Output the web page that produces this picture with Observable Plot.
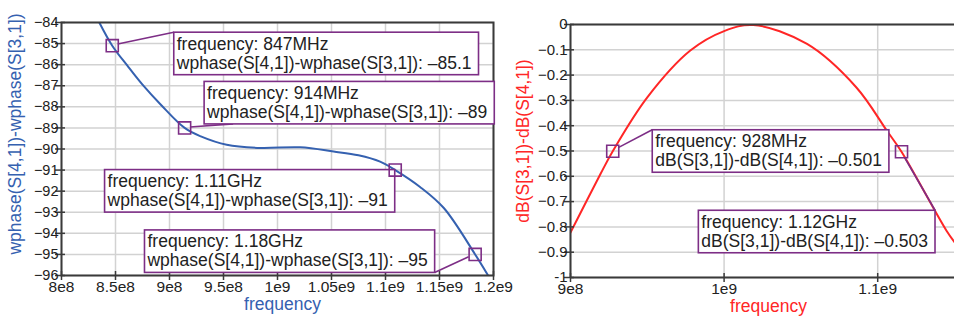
<!DOCTYPE html>
<html><head><meta charset="utf-8">
<script src="https://cdn.jsdelivr.net/npm/d3@7"></script>
<script src="https://cdn.jsdelivr.net/npm/@observablehq/plot@0.6"></script>
<style>
body{margin:0;background:#fff;}
#wrap{display:flex;width:954px;height:321px;overflow:hidden;}
#wrap svg{display:block;overflow:visible;}
</style></head><body><div id="wrap"><div id="left"></div><div id="right"></div></div>
<script>
// ---------- data ----------
const phaseFreq = [8.35e8, 8.47e8, 8.61e8, 8.75e8, 8.92e8, 9.14e8, 9.29e8, 9.53e8, 9.84e8, 1.021e9, 1.052e9, 1.075e9, 1.095e9, 1.109e9, 1.132e9, 1.154e9, 1.183e9, 1.195e9];
const phaseDiff = [-84.0, -85.1, -86.05, -86.95, -87.9, -89.0, -89.4, -89.8, -89.95, -89.92, -90.12, -90.3, -90.6, -91.0, -91.8, -92.8, -95.0, -96.0];

const dbFreq = [9.0e8, 9.195e8, 9.275e8, 9.5e8, 9.78e8, 1.0e9, 1.019e9, 1.054e9, 1.086e9, 1.106e9, 1.1155e9, 1.1448e9, 1.15e9];
const dbDiff = [-0.822, -0.591, -0.501, -0.288, -0.103, -0.026, -0.002, -0.077, -0.248, -0.42, -0.503, -0.815, -0.86];

const leftXTicks = [8e8, 8.5e8, 9e8, 9.5e8, 1e9, 1.05e9, 1.1e9, 1.15e9, 1.2e9];
const leftXTickLabels = ["8e8", "8.5e8", "9e8", "9.5e8", "1e9", "1.05e9", "1.1e9", "1.15e9", "1.2e9"];
const leftYTicks = [-84, -85, -86, -87, -88, -89, -90, -91, -92, -93, -94, -95, -96];

const rightXTicks = [9e8, 1e9, 1.1e9];
const rightXTickLabels = ["9e8", "1e9", "1.1e9"];
const rightYTicks = [0, -0.1, -0.2, -0.3, -0.4, -0.5, -0.6, -0.7, -0.8, -0.9, -1];
const rightYTickLabels = ["0", "\u22120.1", "\u22120.2", "\u22120.3", "\u22120.4", "\u22120.5", "\u22120.6", "\u22120.7", "\u22120.8", "\u22120.9", "-1"];

const phaseMarkerFreq = [8.47e8, 9.14e8, 1.109e9, 1.183e9];
const phaseMarkerValue = [-85.1, -89, -91, -95];
const phaseMarkerFreqText = ["847MHz", "914MHz", "1.11GHz", "1.18GHz"];
const phaseMarkerValueText = ["\u201385.1", "\u201389", "\u201391", "\u201395"];

const dbMarkerFreq = [9.275e8, 1.1155e9];
const dbMarkerValue = [-0.501, -0.503];
const dbMarkerFreqText = ["928MHz", "1.12GHz"];
const dbMarkerValueText = ["\u20130.501", "\u20130.503"];

const leftYTitle = "wphase(S[4,1])-wphase(S[3,1])";
const rightYTitle = "dB(S[3,1])-dB(S[4,1])";
const xTitle = "frequency";

// ---------- style / layout ----------
const FONT = "'Liberation Sans', Arial, Helvetica, sans-serif";
const BLUE = "#3561b0", RED = "#ff2626", PURPLE = "#7d2e86", GRID = "#d2d2d2", AX = "#3a3a3a", TXT = "#222222";

// box layout per annotation: anchor side, offset of box top corner from marker centre, leader target
const phaseLayout = [
  {side: "start", ox: 62, oy: -13, lead: "tl"},
  {side: "start", ox: 20, oy: -46, lead: "b29"},
  {side: "end", ox: 0, oy: 0, lead: null},
  {side: "end", ox: -40, oy: -24, lead: "br"}
];
const dbLayout = [
  {side: "start", ox: 40, oy: -21, lead: "tl"},
  {side: "end", ox: 34, oy: 59, lead: "tr"}
];

function annotate(plot, items, layout) {
  const xs = plot.scale("x"), ys = plot.scale("y");
  const svg = d3.select(plot);
  const g = svg.append("g").attr("class", "annots");
  items.forEach((it, i) => {
    const L = layout[i];
    const cx = xs.apply(it.f), cy = ys.apply(it.v);
    const lg = g.append("g");
    const line = lg.append("line");
    const rect = lg.append("rect");
    const t = lg.append("text").attr("font-family", FONT).attr("font-size", 17.5)
      .attr("fill", TXT).attr("text-anchor", "start").style("text-anchor", "start");
    t.append("tspan").attr("x", 0).attr("y", 17.5).text(it.l1);
    t.append("tspan").attr("x", 0).attr("y", 36.5).text(it.l2);
    const w = Math.max(...t.selectAll("tspan").nodes().map(n => n.getComputedTextLength())) + 10;
    const h = 42.5;
    const left = L.side === "start" ? cx + L.ox : cx + L.ox - w;
    const top = cy + L.oy;
    rect.attr("x", left).attr("y", top).attr("width", w).attr("height", h)
      .attr("fill", "white").attr("stroke", PURPLE).attr("stroke-width", 1.6);
    t.attr("transform", `translate(${left + 3},${top})`);
    if (L.lead) {
      let tx, ty;
      if (L.lead === "tl") { tx = left; ty = top; }
      else if (L.lead === "tr") { tx = left + w; ty = top; }
      else if (L.lead === "br") { tx = left + w; ty = top + h; }
      else { tx = left + (+L.lead.slice(1)); ty = top + h; }
      const dx = tx - cx, dy = ty - cy;
      const k = 6 / Math.max(Math.abs(dx), Math.abs(dy));
      line.attr("x1", cx + dx * k).attr("y1", cy + dy * k).attr("x2", tx).attr("y2", ty)
        .attr("stroke", PURPLE).attr("stroke-width", 1.6);
    } else line.remove();
  });
  svg.selectAll("g[aria-label='dot']").raise();
}

// ---------- left chart ----------
const phaseData = phaseFreq.map((f, i) => ({f, v: phaseDiff[i]}));
const phaseMarkers = phaseMarkerFreq.map((f, i) => ({f, v: phaseMarkerValue[i],
  l1: "frequency: " + phaseMarkerFreqText[i],
  l2: "wphase(S[4,1])-wphase(S[3,1]): " + phaseMarkerValueText[i]}));

const leftPlot = Plot.plot({
  width: 494, height: 321,
  marginLeft: 61, marginRight: 1, marginTop: 22, marginBottom: 46,
  style: {fontFamily: FONT, background: "transparent", color: TXT, overflow: "visible"},
  x: {domain: [8e8, 1.2e9], ticks: leftXTicks},
  y: {domain: [-96, -84], ticks: leftYTicks},
  marks: [
    Plot.gridX(leftXTicks, {stroke: GRID, strokeOpacity: 1, strokeWidth: 1.5}),
    Plot.gridY(leftYTicks, {stroke: GRID, strokeOpacity: 1, strokeWidth: 1.5}),
    Plot.line(phaseData, {x: "f", y: "v", stroke: BLUE, strokeWidth: 2, curve: "catmull-rom", clip: true}),
    Plot.frame({stroke: AX, strokeWidth: 2}),
    Plot.axisX(leftXTicks, {tickSize: 9, dy: -4, tickPadding: 0, fontSize: 15.5, fill: TXT, stroke: AX, strokeWidth: 1.5,
      tickFormat: d => leftXTickLabels[leftXTicks.indexOf(d)], label: null}),
    Plot.axisY(leftYTicks, {tickSize: 10, dx: 4, tickPadding: -3, fontSize: 14.5, fill: TXT, stroke: AX, strokeWidth: 1.5, label: null}),
    Plot.text([xTitle], {frameAnchor: "bottom", dy: 34, dx: 5, fill: BLUE, fontSize: 17.5, textAnchor: "middle"}),
    Plot.text([leftYTitle], {frameAnchor: "left", rotate: -90, dx: -46, dy: -15, fill: BLUE, fontSize: 17.5, textAnchor: "middle"}),
    Plot.dot(phaseMarkers, {x: "f", y: "v", symbol: "square", r: 6.8, stroke: PURPLE, strokeWidth: 1.6, fill: "none"})
  ]
});
document.getElementById("left").appendChild(leftPlot);
annotate(leftPlot, phaseMarkers, phaseLayout);

// ---------- right chart ----------
const dbData = dbFreq.map((f, i) => ({f, v: dbDiff[i]}));
const dbMarkers = dbMarkerFreq.map((f, i) => ({f, v: dbMarkerValue[i],
  l1: "frequency: " + dbMarkerFreqText[i],
  l2: "dB(S[3,1])-dB(S[4,1]): " + dbMarkerValueText[i]}));

const rightPlot = Plot.plot({
  width: 460, height: 321,
  marginLeft: 76, marginRight: 0, marginTop: 24, marginBottom: 44,
  style: {fontFamily: FONT, background: "transparent", color: TXT},
  x: {domain: [9e8, 1.15e9], ticks: rightXTicks},
  y: {domain: [-1, 0], ticks: rightYTicks},
  marks: [
    Plot.gridX(rightXTicks, {stroke: GRID, strokeOpacity: 1, strokeWidth: 1.5}),
    Plot.gridY(rightYTicks, {stroke: GRID, strokeOpacity: 1, strokeWidth: 1.5}),
    Plot.line(dbData, {x: "f", y: "v", stroke: RED, strokeWidth: 2, curve: "catmull-rom", clip: true}),
    Plot.ruleY([0, -1], {stroke: AX, strokeWidth: 2}),
    Plot.ruleX([9e8], {stroke: AX, strokeWidth: 2}),
    Plot.axisX(rightXTicks, {tickSize: 9, dy: -4, tickPadding: 0, fontSize: 15.5, fill: TXT, stroke: AX, strokeWidth: 1.5,
      tickFormat: d => rightXTickLabels[rightXTicks.indexOf(d)], label: null}),
    Plot.axisY(rightYTicks, {tickSize: 10, dx: 4, tickPadding: -3, fontSize: 15, fill: TXT, stroke: AX, strokeWidth: 1.5,
      tickFormat: d => rightYTickLabels[rightYTicks.indexOf(d)], label: null}),
    Plot.text([xTitle], {frameAnchor: "bottom", dy: 34, dx: 6, fill: RED, fontSize: 17.5, textAnchor: "middle"}),
    Plot.text([rightYTitle], {frameAnchor: "left", rotate: -90, dx: -47, dy: -10, fill: RED, fontSize: 17.5, textAnchor: "middle"}),
    Plot.dot(dbMarkers, {x: "f", y: "v", symbol: "square", r: 6.8, stroke: PURPLE, strokeWidth: 1.6, fill: "none"})
  ]
});
document.getElementById("right").appendChild(rightPlot);
annotate(rightPlot, dbMarkers, dbLayout);
</script>
</body></html>
